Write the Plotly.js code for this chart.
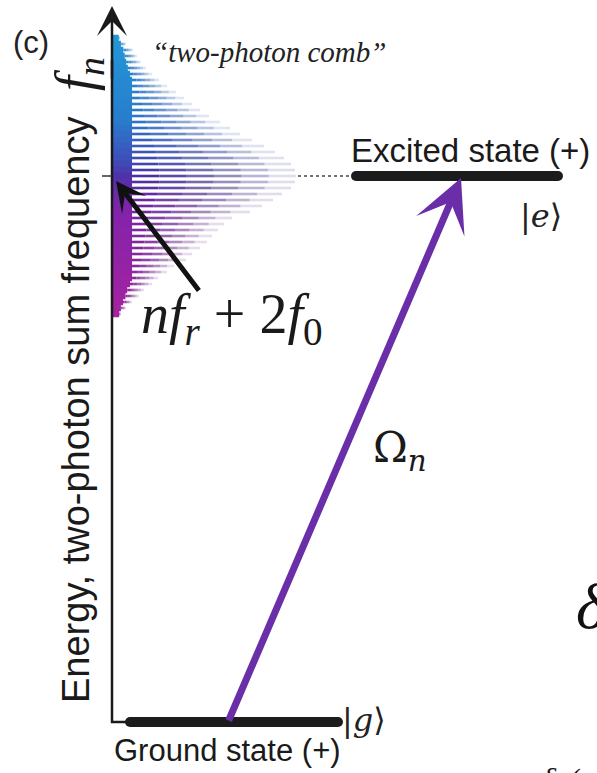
<!DOCTYPE html>
<html><head><meta charset="utf-8">
<script src="https://cdn.plot.ly/plotly-3.0.1.min.js"></script>
<style>html,body{margin:0;padding:0;background:#fff}#chart{width:597px;height:773px}</style>
</head><body><div id="chart"></div>
<script>
// ---- data ----
// comb tooth strengths (envelope), listed from highest to lowest frequency
const combEnvelope = [8,14,21,25,29,34,40,47,55,64,72,80,88,97,108,118,128,140,152,163,172,179,183,184,183,179,170,161,150,138,120,112,106,100,95,88,80,74,62,55,46,40,32,27,20,14,9];
// energy levels (diagram units)
const levelNames = ["Ground state (+)", "Excited state (+)"];
const levelKets = ["|<i>g</i>⟩", "|<i>e</i>⟩"];
const levelEnergy = [722, 176];

// ---- geometry / style ----
const axisX = 112;
const combTop = 38, combStep = 6;
const N = combEnvelope.length;
const traces = [];

function lerp(a,b,t){return a+(b-a)*t;}
function mix(c1,c2,t){return [0,1,2].map(k=>Math.round(lerp(c1[k],c2[k],t)));}
function gradColor(stops,t){
  for(let i=0;i<stops.length-1;i++){
    if(t<=stops[i+1][0]){const u=(t-stops[i][0])/(stops[i+1][0]-stops[i][0]);return mix(stops[i][1],stops[i+1][1],u);}
  }
  return stops[stops.length-1][1];
}
const bandStops=[[0,[35,150,215]],[0.3,[40,125,205]],[0.45,[65,75,185]],[0.5,[78,50,170]],[0.62,[130,35,170]],[1,[165,35,160]]];
const toothStops=[[0,[50,125,200]],[0.35,[55,90,175]],[0.5,[60,50,130]],[0.65,[95,40,135]],[1,[135,45,150]]];

combEnvelope.forEach((L,i)=>{
  const y = combTop + combStep*i;
  const t = i/(N-1);
  const band = gradColor(bandStops,t);
  const tooth = gradColor(toothStops,t);
  const bandLen = Math.min(20, 0.35*L+4);
  traces.push({type:'scatter',mode:'lines',x:[axisX,axisX+bandLen],y:[y,y],
    line:{color:`rgb(${band})`,width:6.5},hoverinfo:'skip'});
  const ops=[1,0.88,0.72,0.55,0.36,0.16];
  const rest=L-bandLen;
  if(rest>0){
    ops.forEach((o,k)=>{
      const x0=axisX+bandLen+rest*k/ops.length, x1=axisX+bandLen+rest*(k+1)/ops.length;
      const c=mix(band,tooth,Math.min(1,(k+1)/4));
      traces.push({type:'scatter',mode:'lines',x:[x0,x1],y:[y,y],
        line:{color:`rgba(${c},${o})`,width:2.6},hoverinfo:'skip'});
    });
  }
});

// vertical axis, bottom corner
traces.push({type:'scatter',mode:'lines',x:[axisX+16,axisX,axisX],y:[levelEnergy[0],levelEnergy[0],60],
  line:{color:'#1a1a1a',width:2.5},hoverinfo:'skip'});
// tick at f_n
traces.push({type:'scatter',mode:'lines',x:[axisX-10,axisX],y:[levelEnergy[1],levelEnergy[1]],
  line:{color:'#333',width:1.5},hoverinfo:'skip'});
// dotted guide
traces.push({type:'scatter',mode:'lines',x:[298,354],y:[levelEnergy[1],levelEnergy[1]],
  line:{color:'#444',width:1.6,dash:'dot'},hoverinfo:'skip'});
// level bars
const barX=[[130,338],[356,558]];
levelEnergy.forEach((e,i)=>{
  traces.push({type:'scatter',mode:'lines+markers',x:barX[i],y:[e,e],
    line:{color:'#1c1c1c',width:10},marker:{color:'#1c1c1c',size:10},hoverinfo:'skip'});
});

const sans='Liberation Sans, Arial, sans-serif';
const serif='DejaVu Serif, Liberation Serif, serif';
const tserif='Liberation Serif, serif';
const ann=[];
function arrow(x0,y0,x1,y1,color,width,size){
  ann.push({x:x1,y:y1,ax:x0,ay:y0,xref:'x',yref:'y',axref:'x',ayref:'y',text:'',showarrow:true,
    arrowhead:3,arrowsize:size,arrowwidth:width,arrowcolor:color,standoff:0});
}
arrow(axisX,80,axisX,6,'#1a1a1a',2.5,2.0);
arrow(228,levelEnergy[0],461,178,'#6a2ea8',7,1.25);
arrow(200,292,116,181,'#111',5,1.0);
function txt(x,y,text,font,extra){ann.push(Object.assign({x:x,y:y,xref:'x',yref:'y',text:text,showarrow:false,font:font},extra||{}));}
txt(31,42,'(c)',{family:sans,size:31,color:'#222'});
txt(150,52,'<i>“two-photon comb”</i>',{family:tserif,size:29,color:'#222'},{xanchor:'left'});
txt(470,150,levelNames[1],{family:sans,size:33,color:'#1a1a1a'});
txt(227,750,levelNames[0],{family:sans,size:31,color:'#1a1a1a'});
txt(541,216,levelKets[1],{family:serif,size:32,color:'#222'});
txt(364,720,levelKets[0],{family:serif,size:32,color:'#222'});
txt(400,450,'Ω<sub><i>n</i></sub>',{family:serif,size:42,color:'#1a1a1a'});
txt(232,318,'<i>nf</i><sub><i>r</i></sub> + 2<i>f</i><sub>0</sub>',{family:tserif,size:56,color:'#1a1a1a'});
txt(76,410,'Energy, two-photon sum frequency',{family:sans,size:38,color:'#1a1a1a'},{textangle:-90});
txt(78,74,'<i>f<sub>n</sub></i>',{family:tserif,size:54,color:'#1a1a1a'},{textangle:-90});
txt(574,606,'<i>δ</i>',{family:tserif,size:64,color:'#111'},{xanchor:'left'});
txt(540,760,'<i>δ</i>  (',{family:tserif,size:30,color:'#111'},{xanchor:'left',yanchor:'top'});

const layout={width:597,height:773,margin:{l:0,r:0,t:0,b:0},paper_bgcolor:'#fff',plot_bgcolor:'#fff',
  showlegend:false,hovermode:false,
  xaxis:{range:[0,597],visible:false,fixedrange:true},
  yaxis:{range:[773,0],visible:false,fixedrange:true},
  annotations:ann};
Plotly.newPlot('chart',traces,layout,{staticPlot:true,displayModeBar:false});
</script></body></html>
